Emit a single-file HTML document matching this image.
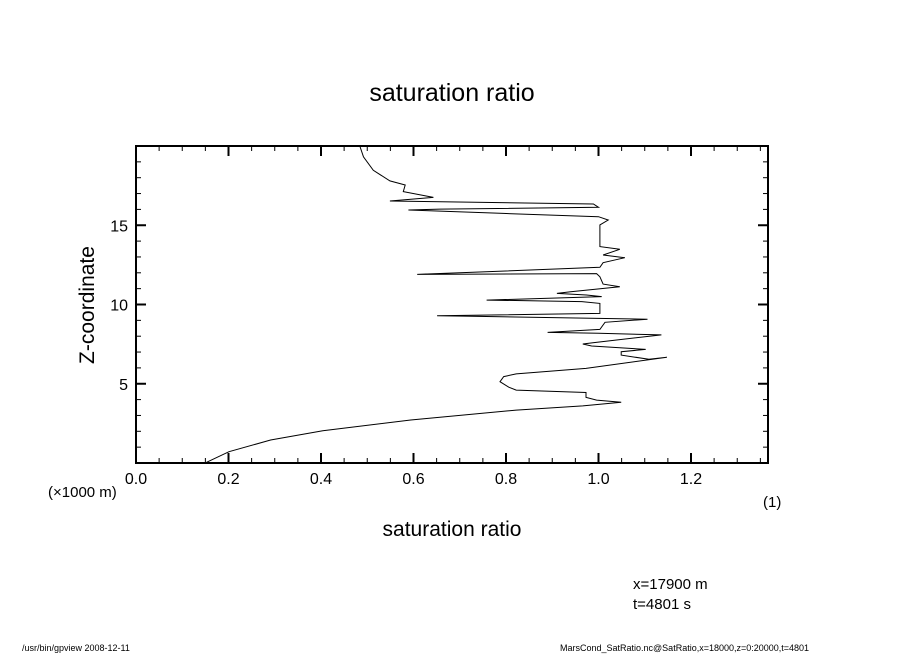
<!DOCTYPE html>
<html><head><meta charset="utf-8"><style>
body{margin:0;background:#fff;}
svg{display:block;font-family:"Liberation Sans",sans-serif;}
</style></head><body>
<svg id="chart" width="904" height="654" viewBox="0 0 904 654">
<text x="452" y="101" font-size="25" text-anchor="middle">saturation ratio</text>
<rect x="136" y="146" width="632" height="317" fill="none" stroke="#000" stroke-width="2"/>
<g id="ticks"></g>
<g id="xlabels" font-size="16"></g>
<g id="ylabels" font-size="16" text-anchor="end"></g>
<polyline id="curve" fill="none" stroke="#000" stroke-width="1"/>
<text x="48" y="497" font-size="15">(×1000 m)</text>
<text x="763" y="507" font-size="15">(1)</text>
<text x="452" y="536" font-size="21" text-anchor="middle">saturation ratio</text>
<text x="94" y="305" font-size="21" text-anchor="middle" transform="rotate(-90 94 305)">Z-coordinate</text>
<text x="633" y="589" font-size="15">x=17900 m</text>
<text x="633" y="609" font-size="15">t=4801 s</text>
<text x="22" y="651" font-size="9">/usr/bin/gpview   2008-12-11</text>
<text x="560" y="651" font-size="9">MarsCond_SatRatio.nc@SatRatio,x=18000,z=0:20000,t=4801</text>
</svg>
<script>
const satValues=[0.152,0.201,0.291,0.404,0.594,0.822,0.966,1.049,0.996,0.973,0.973,0.822,0.806,0.787,0.795,0.822,0.973,1.148,1.109,1.049,1.049,1.102,0.985,0.966,0.988,1.136,1.0,0.89,1.003,1.014,1.106,0.708,0.651,1.003,1.003,1.003,1.003,0.964,0.758,1.007,0.974,0.91,0.94,1.046,1.01,1.003,0.996,0.608,1.003,1.01,1.057,1.01,1.046,1.003,1.003,1.021,1.0,0.794,0.589,0.657,1.0,0.989,0.549,0.643,0.578,0.582,0.549,0.513,0.492,0.484];
const zValues=[0.04,0.71,1.45,2.04,2.71,3.34,3.6,3.83,3.97,4.14,4.45,4.6,4.78,5.13,5.45,5.62,5.97,6.67,6.54,6.81,7.02,7.17,7.38,7.51,7.59,8.08,8.18,8.24,8.43,8.88,9.07,9.27,9.29,9.44,9.76,10.03,10.07,10.18,10.28,10.5,10.6,10.7,10.8,11.12,11.29,11.75,11.95,11.9,12.35,12.64,12.95,13.12,13.48,13.65,15.02,15.33,15.54,15.75,15.96,16.02,16.13,16.34,16.53,16.76,17.12,17.54,17.8,18.47,19.31,20.0];
const xTickLabels=["0.0","0.2","0.4","0.6","0.8","1.0","1.2"];
const yTickLabels=["5","10","15"];
const X0=136,X1=768,Y0=463,Y1=146,XMAX=1.3665,ZMAX=20;
const sx=v=>X0+v/XMAX*(X1-X0);
const sy=z=>Y0-z/ZMAX*(Y0-Y1);
const NS="http://www.w3.org/2000/svg";
const tg=document.getElementById('ticks');
function line(x1,y1,x2,y2,w){const l=document.createElementNS(NS,'line');
l.setAttribute('x1',x1);l.setAttribute('y1',y1);l.setAttribute('x2',x2);l.setAttribute('y2',y2);
l.setAttribute('stroke','#000');l.setAttribute('stroke-width',w);


tg.appendChild(l);}
for(let i=1;i*0.05<XMAX;i++){const v=i*0.05,x=sx(v),maj=i%4===0,L=maj?10:5,w=maj?2:1;
line(x,Y0,x,Y0-L,w);line(x,Y1,x,Y1+L,w);}
for(let z=1;z<ZMAX;z++){const y=sy(z),maj=z%5===0,L=maj?10:5,w=maj?2:1;
line(X0,y,X0+L,y,w);line(X1,y,X1-L,y,w);}
const xl=document.getElementById('xlabels');
xTickLabels.forEach(s=>{const t=document.createElementNS(NS,'text');
t.setAttribute('x',sx(parseFloat(s)));t.setAttribute('y',484);t.setAttribute('text-anchor','middle');


t.textContent=s;xl.appendChild(t);});
const yl=document.getElementById('ylabels');
yTickLabels.forEach(s=>{const t=document.createElementNS(NS,'text');
t.setAttribute('x',128);t.setAttribute('y',sy(parseFloat(s))+6);


t.textContent=s;yl.appendChild(t);});
document.getElementById('curve').setAttribute('points',satValues.map((v,i)=>sx(v).toFixed(1)+','+sy(zValues[i]).toFixed(1)).join(' '));
</script>
</body></html>
